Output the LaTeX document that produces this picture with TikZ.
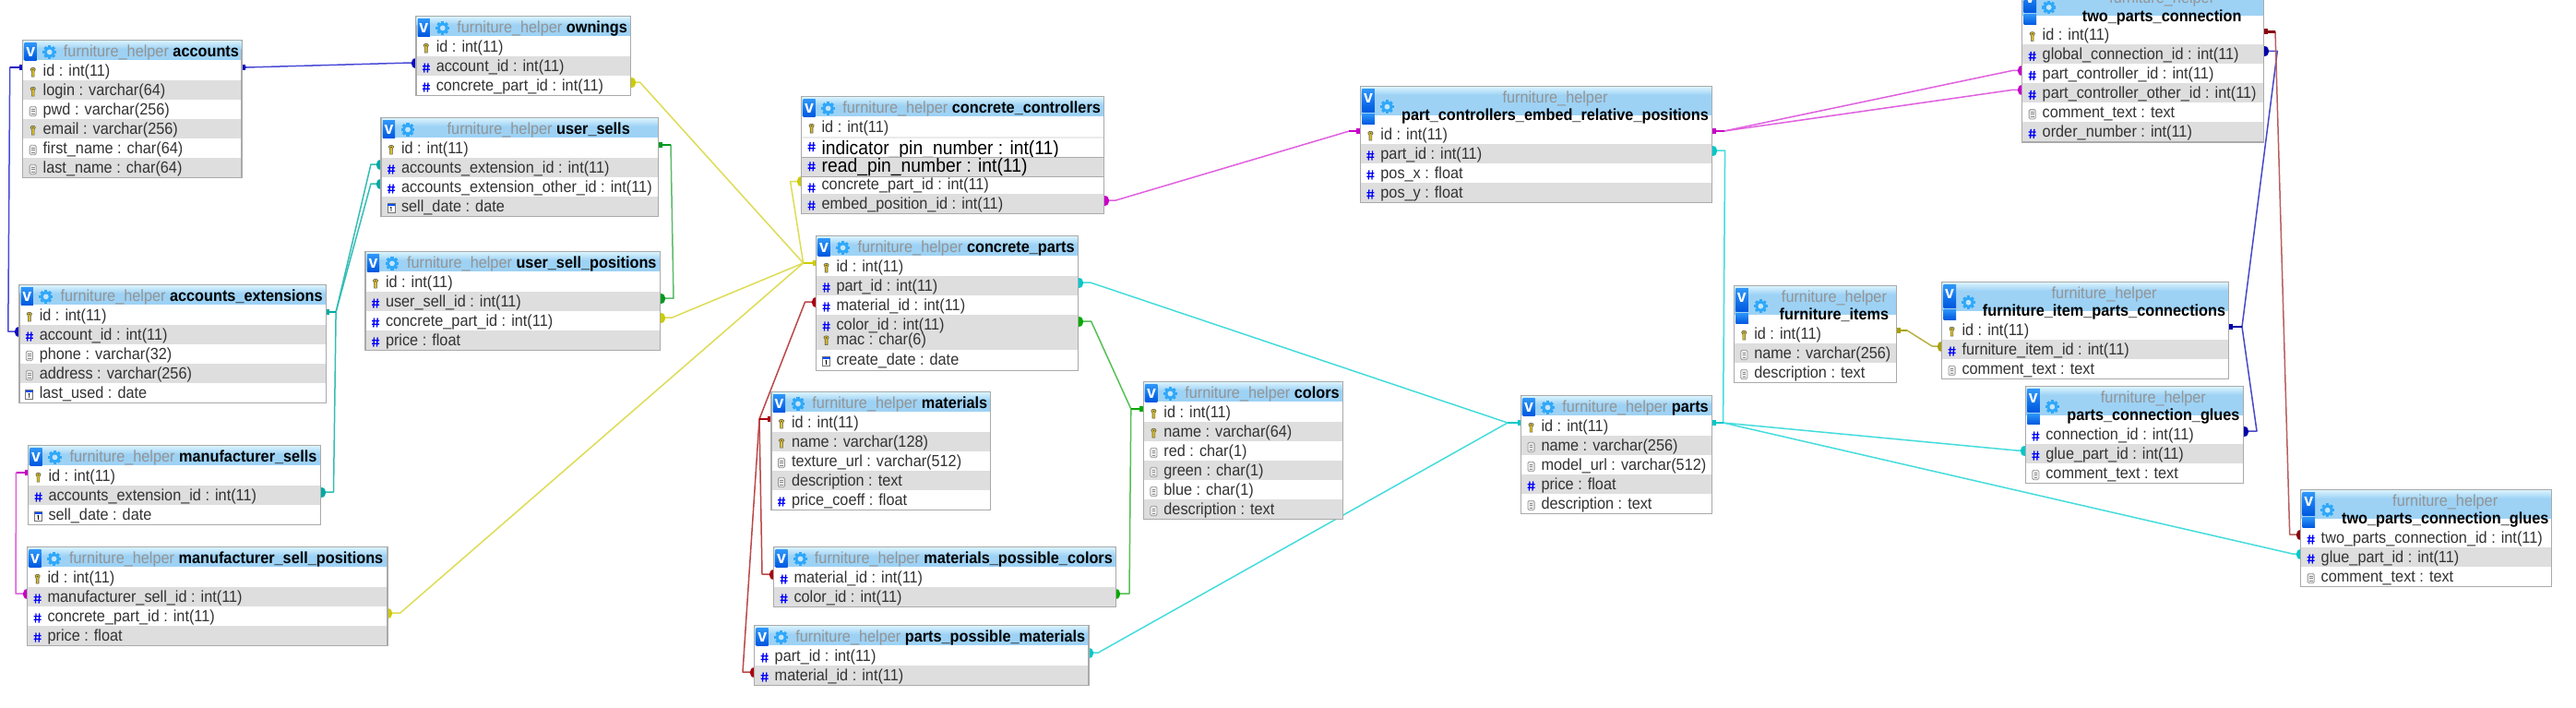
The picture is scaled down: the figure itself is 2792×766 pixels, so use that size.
\documentclass[tikz,border=0pt]{standalone}
\usepackage{fontspec}
\setmainfont[FakeStretch=0.93]{Liberation Sans}
\usetikzlibrary{calc,backgrounds}
\newcommand\dbname{furniture\string_helper}
\AtBeginDocument{\catcode`\_=12 }
\definecolor{frameC}{HTML}{AAAAAA}
\definecolor{rowG}{HTML}{DEDEDE}
\definecolor{txtC}{HTML}{333333}
\definecolor{dbC}{HTML}{949494}
\definecolor{hdrTop}{HTML}{D4F0FD}
\definecolor{hdrBot}{HTML}{9DD2F5}
\definecolor{vTop}{HTML}{2F96F8}
\definecolor{vBot}{HTML}{0058E0}
\definecolor{gearC}{HTML}{2FA8FA}
\definecolor{lnBlue}{HTML}{4A4AD8}\definecolor{dkBlue}{HTML}{1010C0}
\definecolor{lnTeal}{HTML}{35BDB5}\definecolor{dkTeal}{HTML}{00AAA5}
\definecolor{lnGreen}{HTML}{5CBB6A}\definecolor{dkGreen}{HTML}{009A20}
\definecolor{lnYel}{HTML}{DEDC55}\definecolor{dkYel}{HTML}{CCCC00}
\definecolor{lnMag}{HTML}{E060E0}\definecolor{dkMag}{HTML}{C800C8}
\definecolor{lnCy}{HTML}{45DCDC}\definecolor{dkCy}{HTML}{00C8C8}
\definecolor{lnRed}{HTML}{BB4848}\definecolor{dkRed}{HTML}{AA0010}
\definecolor{lnLime}{HTML}{55C055}\definecolor{dkLime}{HTML}{00AA00}
\definecolor{lnOl}{HTML}{B8B040}\definecolor{dkOl}{HTML}{A8A000}
\definecolor{lnKb}{HTML}{4848C8}\definecolor{dkKb}{HTML}{0000AA}
\definecolor{lnDr}{HTML}{B86060}\definecolor{dkDr}{HTML}{8A0010}
\tikzset{
  dbframe/.style={draw=frameC,line width=1.5pt,fill=white,inner sep=0pt,outer sep=0pt},
  dbrowbox/.style={inner sep=0pt,outer sep=0pt,anchor=north west,text=txtC,
     font=\fontsize{17.5}{20}\selectfont},
  dbtitle/.style={inner sep=0pt,outer sep=0pt,anchor=base,
     font=\fontsize{17.5}{20}\selectfont},
  fkline/.style={line width=1.5pt,line join=round},
  fkstub/.style={line width=2.6pt},
}
% icons
\newcommand\ickey[2]{\begin{scope}[shift={(#1,#2)}]
  \filldraw[draw=black!65,fill=yellow!75!orange!85!black,line width=.6pt]
    (-1.4,-1) -- (-1.4,4.6) -- (1.4,4.6) -- (1.4,-1) .. controls (3.6,-2.2) and (3,-5.2) .. (0,-5.2) .. controls (-3,-5.2) and (-3.6,-2.2) .. (-1.4,-1) -- cycle;
  \fill[black!70] (0,-3) circle (.9pt);
\end{scope}}
\newcommand\ichash[2]{\begin{scope}[shift={(#1,#2)}]
  \draw[blue,line width=1.3pt] (-1.5,-5) -- (-2.2,5) (2.2,-5) -- (1.5,5) (-4,-1.8) -- (4,-1.8) (-4,1.8) -- (4,1.8);
\end{scope}}
\newcommand\icdoc[2]{\begin{scope}[shift={(#1,#2)}]
  \filldraw[draw=black!40,fill=black!8,line width=.8pt,rounded corners=1.5pt] (-3.6,-5.2) rectangle (3.6,5.2);
  \draw[black!45,line width=.7pt] (-1.8,-2.4) -- (1.8,-2.4) (-1.8,0) -- (1.8,0) (-1.8,2.4) -- (1.8,2.4);
\end{scope}}
\newcommand\icdate[2]{\begin{scope}[shift={(#1,#2)}]
  \filldraw[draw=black!55,fill=white,line width=.8pt] (-4,-5) rectangle (4,5);
  \fill[blue!70!cyan] (-4,-5) rectangle (4,-2.4);
  \draw[black,line width=.8pt] (-1,-.4) -- (0,-1) -- (0,3.4);
\end{scope}}
% one row: name k x1 x2 ytop height fill icon content
\newcommand\dbBase{16.5}
\newcommand\dbConn{7}
\newcommand\dbIconOff{12.5}
\newcommand\dbrow[9]{%
  \pgfmathsetmacro\dbRW{#4-#3-1.5}%
  \pgfmathsetmacro\dbDp{#6-\dbBase}%
  \pgfmathsetmacro\dbIx{#3+11}%
  \pgfmathsetmacro\dbIy{#5+\dbIconOff}%
  \node[dbrowbox,fill=#7,minimum width=\dbRW pt,minimum height=#6 pt,
        text height=\dbBase pt,text depth=\dbDp pt] (#1-#2) at (#3+.75,#5)
        {\makebox[\dbRW pt][l]{\hspace{21.25pt}#9}};
  \coordinate (#1-#2-L) at (#3,#5+\dbConn);
  \coordinate (#1-#2-R) at (#4,#5+\dbConn);
  \csname ic#8\endcsname{\dbIx}{\dbIy}%
}
% list of rows: name x1 x2 rowstart list
\newcommand\dbrows[5]{%
  \foreach \ic/\tx [count=\k] in {#5}{%
    \pgfmathsetmacro\dbY{#4+21*(\k-1)}%
    \ifodd\k\def\dbF{white}\else\def\dbF{rowG}\fi
    \dbrow{#1}{\k}{#2}{#3}{\dbY}{21}{\dbF}{\ic}{\tx}%
  }%
}
\newcommand\dbGear[2]{\begin{scope}[shift={(#1,#2)},x=.92pt]
  \foreach \a in {0,45,...,315}{\fill[gearC,rotate=\a] (-1.7,-7.4) rectangle (1.7,0);}
  \fill[gearC] (0,0) circle (5.8pt);
  \fill[hdrBot!60!white] (0,0) circle (2.9pt);
\end{scope}}
% header: name x1 x2 rowstart bottom lines title
\newcommand\dbhead[7]{%
  \ifnum#6=1 \def\dbHH{22}\def\dbBand{21}\else \def\dbHH{41}\def\dbBand{31}\fi
  \pgfmathsetmacro\dbTop{#4-\dbHH}%
  \pgfmathsetmacro\dbW{#3-#2}%
  \pgfmathsetmacro\dbH{#5-\dbTop}%
  \pgfmathsetmacro\dbMid{(#2+41+#3)/2}%
  \node[dbframe,minimum width=\dbW pt,minimum height=\dbH pt,anchor=north west] (#1) at (#2,\dbTop) {};
  \shade[top color=hdrTop,bottom color=hdrBot] (#2+.75,\dbTop+.75) rectangle (#3-.75,\dbTop+9);
  \fill[hdrBot] (#2+.75,\dbTop+9) rectangle (#3-.75,\dbTop+\dbBand);
  \ifnum#6=1
    \shade[top color=vTop,bottom color=vBot] (#2+2,\dbTop+2.5) rectangle (#2+15,\dbTop+21);
    \node[dbtitle] (#1-title) at (\dbMid,\dbTop+17) {\textcolor{dbC}{\dbname} \textbf{\textcolor{black}{#7}}};
    \node[inner sep=0pt,text=white,font=\fontsize{19}{20}\selectfont\bfseries] (#1-v) at (#2+8.5,\dbTop+12) {v};
    \dbGear{#2+29}{\dbTop+12.4}%
  \else
    \shade[top color=vTop,bottom color=vBot] (#2+2,\dbTop+2.5) rectangle (#2+15.5,\dbTop+27);
    \shade[top color=vTop,bottom color=vBot] (#2+2,\dbTop+29) rectangle (#2+15.5,\dbTop+40.5);
    \node[dbtitle,text=dbC] (#1-db) at (\dbMid,\dbTop+17.4) {\dbname};
    \node[dbtitle,text=black] (#1-title) at (\dbMid,\dbTop+36.7) {\textbf{#7}};
    \node[inner sep=0pt,text=white,font=\fontsize{19}{20}\selectfont\bfseries] (#1-v) at (#2+8.5,\dbTop+12.5) {v};
    \dbGear{#2+29}{\dbTop+21.7}%
  \fi
}
% connector: light dark one dirOne stubOne many dirMany stubMany
\newcommand\fk[8]{%
  \draw[fkline,#1] (#3) -- ($(#3)+(#5,0)$) -- ($(#6)+(#8,0)$) -- (#6);
  \draw[fkstub,#2] (#3) -- ($(#3)+(#5,0)$);
  \fill[#2] ($(#3)+(0,-3)$) rectangle ($(#3)+(#4*4,3)$);
  \fill[#2] ($(#6)+(0,-5.5)$) .. controls ($(#6)+(#7*7,-5.5)$) and ($(#6)+(#7*7,5.5)$) .. ($(#6)+(0,5.5)$) -- cycle;
}
\begin{document}
\begin{tikzpicture}[x=1pt,y=-1pt]
\useasboundingbox (0,0) rectangle (2792,766);
\clip (0,0) rectangle (2792,766);

\dbhead{acc}{24.7}{262.2}{66}{192.3}{1}{accounts}
\dbrows{acc}{24.7}{262.2}{66}{key/{id : int(11)},key/{login : varchar(64)},doc/{pwd : varchar(256)},key/{email : varchar(256)},doc/{first_name : char(64)},doc/{last_name : char(64)}}

\dbhead{own}{450.8}{683.5}{40}{103.5}{1}{ownings}
\dbrows{own}{450.8}{683.5}{40}{key/{id : int(11)},hash/{account_id : int(11)},hash/{concrete_part_id : int(11)}}

\dbhead{usl}{413}{713.5}{150}{234.5}{1}{user_sells}
\dbrows{usl}{413}{713.5}{150}{key/{id : int(11)},hash/{accounts_extension_id : int(11)},hash/{accounts_extension_other_id : int(11)},date/{sell_date : date}}

\dbhead{usp}{396}{715.5}{295}{379.5}{1}{user_sell_positions}
\dbrows{usp}{396}{715.5}{295}{key/{id : int(11)},hash/{user_sell_id : int(11)},hash/{concrete_part_id : int(11)},hash/{price : float}}

\dbhead{ext}{20.8}{353.4}{331}{436.5}{1}{accounts_extensions}
\dbrows{ext}{20.8}{353.4}{331}{key/{id : int(11)},hash/{account_id : int(11)},doc/{phone : varchar(32)},doc/{address : varchar(256)},date/{last_used : date}}

\dbhead{msl}{30.5}{347.5}{505}{568.5}{1}{manufacturer_sells}
\dbrows{msl}{30.5}{347.5}{505}{key/{id : int(11)},hash/{accounts_extension_id : int(11)},date/{sell_date : date}}

\dbhead{mpo}{29.6}{419.8}{615}{699.5}{1}{manufacturer_sell_positions}
\dbrows{mpo}{29.6}{419.8}{615}{key/{id : int(11)},hash/{manufacturer_sell_id : int(11)},hash/{concrete_part_id : int(11)},hash/{price : float}}

% concrete_controllers: two rows in a larger face
\dbhead{ccc}{868.6}{1196.7}{127}{231.5}{1}{concrete_controllers}
\dbrow{ccc}{1}{868.6}{1196.7}{127}{21}{white}{key}{id : int(11)}
\fill[rowG!60!white] (869.4,148) rectangle (1196,149.5);
\renewcommand\dbBase{18}\renewcommand\dbIconOff{9.5}
\dbrow{ccc}{2}{868.6}{1196.7}{149.5}{20.8}{white}{hash}{{\fontsize{20.8}{22}\selectfont\color{black}indicator_pin_number : int(11)}}
\renewcommand\dbBase{16}\renewcommand\dbIconOff{10}
\dbrow{ccc}{3}{868.6}{1196.7}{170.3}{21}{rowG}{hash}{{\fontsize{20.8}{22}\selectfont\color{black}read_pin_number : int(11)}}
\draw[frameC,line width=1pt] (869.4,170.3) -- (1196,170.3) (869.4,191.3) -- (1196,191.3);
\renewcommand\dbBase{13.7}\renewcommand\dbConn{5}\renewcommand\dbIconOff{12}
\dbrow{ccc}{4}{868.6}{1196.7}{191.5}{18.7}{white}{hash}{concrete_part_id : int(11)}
\renewcommand\dbBase{16.5}\renewcommand\dbConn{7}\renewcommand\dbIconOff{12.5}
\dbrow{ccc}{5}{868.6}{1196.7}{210.2}{20.6}{rowG}{hash}{embed_position_id : int(11)}

% concrete_parts: colour and mac share one tall band
\dbhead{cpa}{884.6}{1168.6}{278}{401.5}{1}{concrete_parts}
\dbrows{cpa}{884.6}{1168.6}{278}{key/{id : int(11)},hash/{part_id : int(11)},hash/{material_id : int(11)},hash/{color_id : int(11)}}
\renewcommand\dbBase{11}\renewcommand\dbIconOff{7}
\dbrow{cpa}{5}{884.6}{1168.6}{362}{17}{rowG}{key}{mac : char(6)}
\renewcommand\dbBase{16.5}\renewcommand\dbIconOff{12.5}
\dbrow{cpa}{6}{884.6}{1168.6}{379}{21.8}{white}{date}{create_date : date}

\dbhead{mat}{836}{1073.6}{447}{552.5}{1}{materials}
\dbrows{mat}{836}{1073.6}{447}{key/{id : int(11)},key/{name : varchar(128)},doc/{texture_url : varchar(512)},doc/{description : text},hash/{price_coeff : float}}

\dbhead{mpc}{838.5}{1209.3}{615}{657.5}{1}{materials_possible_colors}
\dbrows{mpc}{838.5}{1209.3}{615}{hash/{material_id : int(11)},hash/{color_id : int(11)}}

\dbhead{ppm}{817.7}{1179.8}{700}{742.5}{1}{parts_possible_materials}
\dbrows{ppm}{817.7}{1179.8}{700}{hash/{part_id : int(11)},hash/{material_id : int(11)}}

\dbhead{col}{1239.4}{1455.6}{436}{562.5}{1}{colors}
\dbrows{col}{1239.4}{1455.6}{436}{key/{id : int(11)},key/{name : varchar(64)},doc/{red : char(1)},doc/{green : char(1)},doc/{blue : char(1)},doc/{description : text}}

\dbhead{pce}{1474.4}{1855.6}{135}{219.5}{2}{part_controllers_embed_relative_positions}
\dbrows{pce}{1474.4}{1855.6}{135}{key/{id : int(11)},hash/{part_id : int(11)},hash/{pos_x : float},hash/{pos_y : float}}

\dbhead{par}{1648.5}{1855.6}{451}{556.5}{1}{parts}
\dbrows{par}{1648.5}{1855.6}{451}{key/{id : int(11)},doc/{name : varchar(256)},doc/{model_url : varchar(512)},hash/{price : float},doc/{description : text}}

\dbhead{fit}{1879.3}{2055.6}{351}{414.5}{2}{furniture_items}
\dbrows{fit}{1879.3}{2055.6}{351}{key/{id : int(11)},doc/{name : varchar(256)},doc/{description : text}}

\dbhead{fip}{2104.5}{2415.6}{347}{410.5}{2}{furniture_item_parts_connections}
\dbrows{fip}{2104.5}{2415.6}{347}{key/{id : int(11)},hash/{furniture_item_id : int(11)},doc/{comment_text : text}}

\dbhead{pcg}{2195.3}{2431.5}{460}{523.5}{2}{parts_connection_glues}
\dbrows{pcg}{2195.3}{2431.5}{460}{hash/{connection_id : int(11)},hash/{glue_part_id : int(11)},doc/{comment_text : text}}

\dbhead{tpc}{2191.7}{2453.7}{27.3}{153.8}{2}{two_parts_connection}
\dbrows{tpc}{2191.7}{2453.7}{27.3}{key/{id : int(11)},hash/{global_connection_id : int(11)},hash/{part_controller_id : int(11)},hash/{part_controller_other_id : int(11)},doc/{comment_text : text},hash/{order_number : int(11)}}

\dbhead{tpg}{2493.7}{2765.7}{572}{635.5}{2}{two_parts_connection_glues}
\dbrows{tpg}{2493.7}{2765.7}{572}{hash/{two_parts_connection_id : int(11)},hash/{glue_part_id : int(11)},doc/{comment_text : text}}

\begin{scope}[on background layer]
\fill[white] (0,0) rectangle (2792,766);
% blue: accounts
\fk{lnBlue}{dkBlue}{acc-1-R}{1}{5}{own-2-L}{-1}{-5}
\fk{lnBlue}{dkBlue}{acc-1-L}{-1}{-14}{ext-2-L}{-1}{-12}
% teal: accounts_extensions
\fk{lnTeal}{dkTeal}{ext-1-R}{1}{10.7}{usl-2-L}{-1}{-11}
\fk{lnTeal}{dkTeal}{ext-1-R}{1}{10.7}{usl-3-L}{-1}{-11}
\fk{lnTeal}{dkTeal}{ext-1-R}{1}{10.7}{msl-2-R}{1}{14}
% green: user_sells
\fk{lnGreen}{dkGreen}{usl-1-R}{1}{13.5}{usp-2-R}{1}{14.5}
% yellow: concrete_parts
\fk{lnYel}{dkYel}{cpa-1-L}{-1}{-14}{own-3-R}{1}{10}
\fk{lnYel}{dkYel}{cpa-1-L}{-1}{-14}{usp-3-R}{1}{13}
\fk{lnYel}{dkYel}{cpa-1-L}{-1}{-14}{mpo-3-R}{1}{14}
\fk{lnYel}{dkYel}{cpa-1-L}{-1}{-14}{ccc-4-L}{-1}{-12}
% magenta
\fk{lnMag}{dkMag}{pce-1-L}{-1}{-12}{ccc-5-R}{1}{12}
\fk{lnMag}{dkMag}{pce-1-R}{1}{13}{tpc-3-L}{-1}{-10}
\fk{lnMag}{dkMag}{pce-1-R}{1}{13}{tpc-4-L}{-1}{-10}
\fk{lnMag}{dkMag}{msl-1-L}{-1}{-13}{mpo-2-L}{-1}{-12.6}
% cyan: parts
\fk{lnCy}{dkCy}{par-1-L}{-1}{-14.5}{cpa-2-R}{1}{13}
\fk{lnCy}{dkCy}{par-1-L}{-1}{-14.5}{ppm-1-R}{1}{10.6}
\fk{lnCy}{dkCy}{par-1-R}{1}{12}{pce-2-R}{1}{14}
\fk{lnCy}{dkCy}{par-1-R}{1}{12}{pcg-2-L}{-1}{-10}
\fk{lnCy}{dkCy}{par-1-R}{1}{12}{tpg-2-L}{-1}{-9}
% red: materials
\fk{lnRed}{dkRed}{mat-1-L}{-1}{-13}{cpa-3-L}{-1}{-12}
\fk{lnRed}{dkRed}{mat-1-L}{-1}{-13}{mpc-1-L}{-1}{-12.5}
\fk{lnRed}{dkRed}{mat-1-L}{-1}{-13}{ppm-2-L}{-1}{-12.7}
% lime: colors
\fk{lnLime}{dkLime}{col-1-L}{-1}{-13.6}{cpa-4-R}{1}{14}
\fk{lnLime}{dkLime}{col-1-L}{-1}{-13.6}{mpc-2-R}{1}{14.7}
% olive: furniture_items
\fk{lnOl}{dkOl}{fit-1-R}{1}{11.5}{fip-2-L}{-1}{-10.5}
% dark blue: furniture_item_parts_connections
\fk{lnKb}{dkKb}{fip-1-R}{1}{14.4}{tpc-2-R}{1}{14.6}
\fk{lnKb}{dkKb}{fip-1-R}{1}{14.4}{pcg-1-R}{1}{14.5}
% dark red: two_parts_connection
\fk{lnDr}{dkDr}{tpc-1-R}{1}{12.3}{tpg-1-L}{-1}{-12}
\end{scope}
\end{tikzpicture}
\end{document}
